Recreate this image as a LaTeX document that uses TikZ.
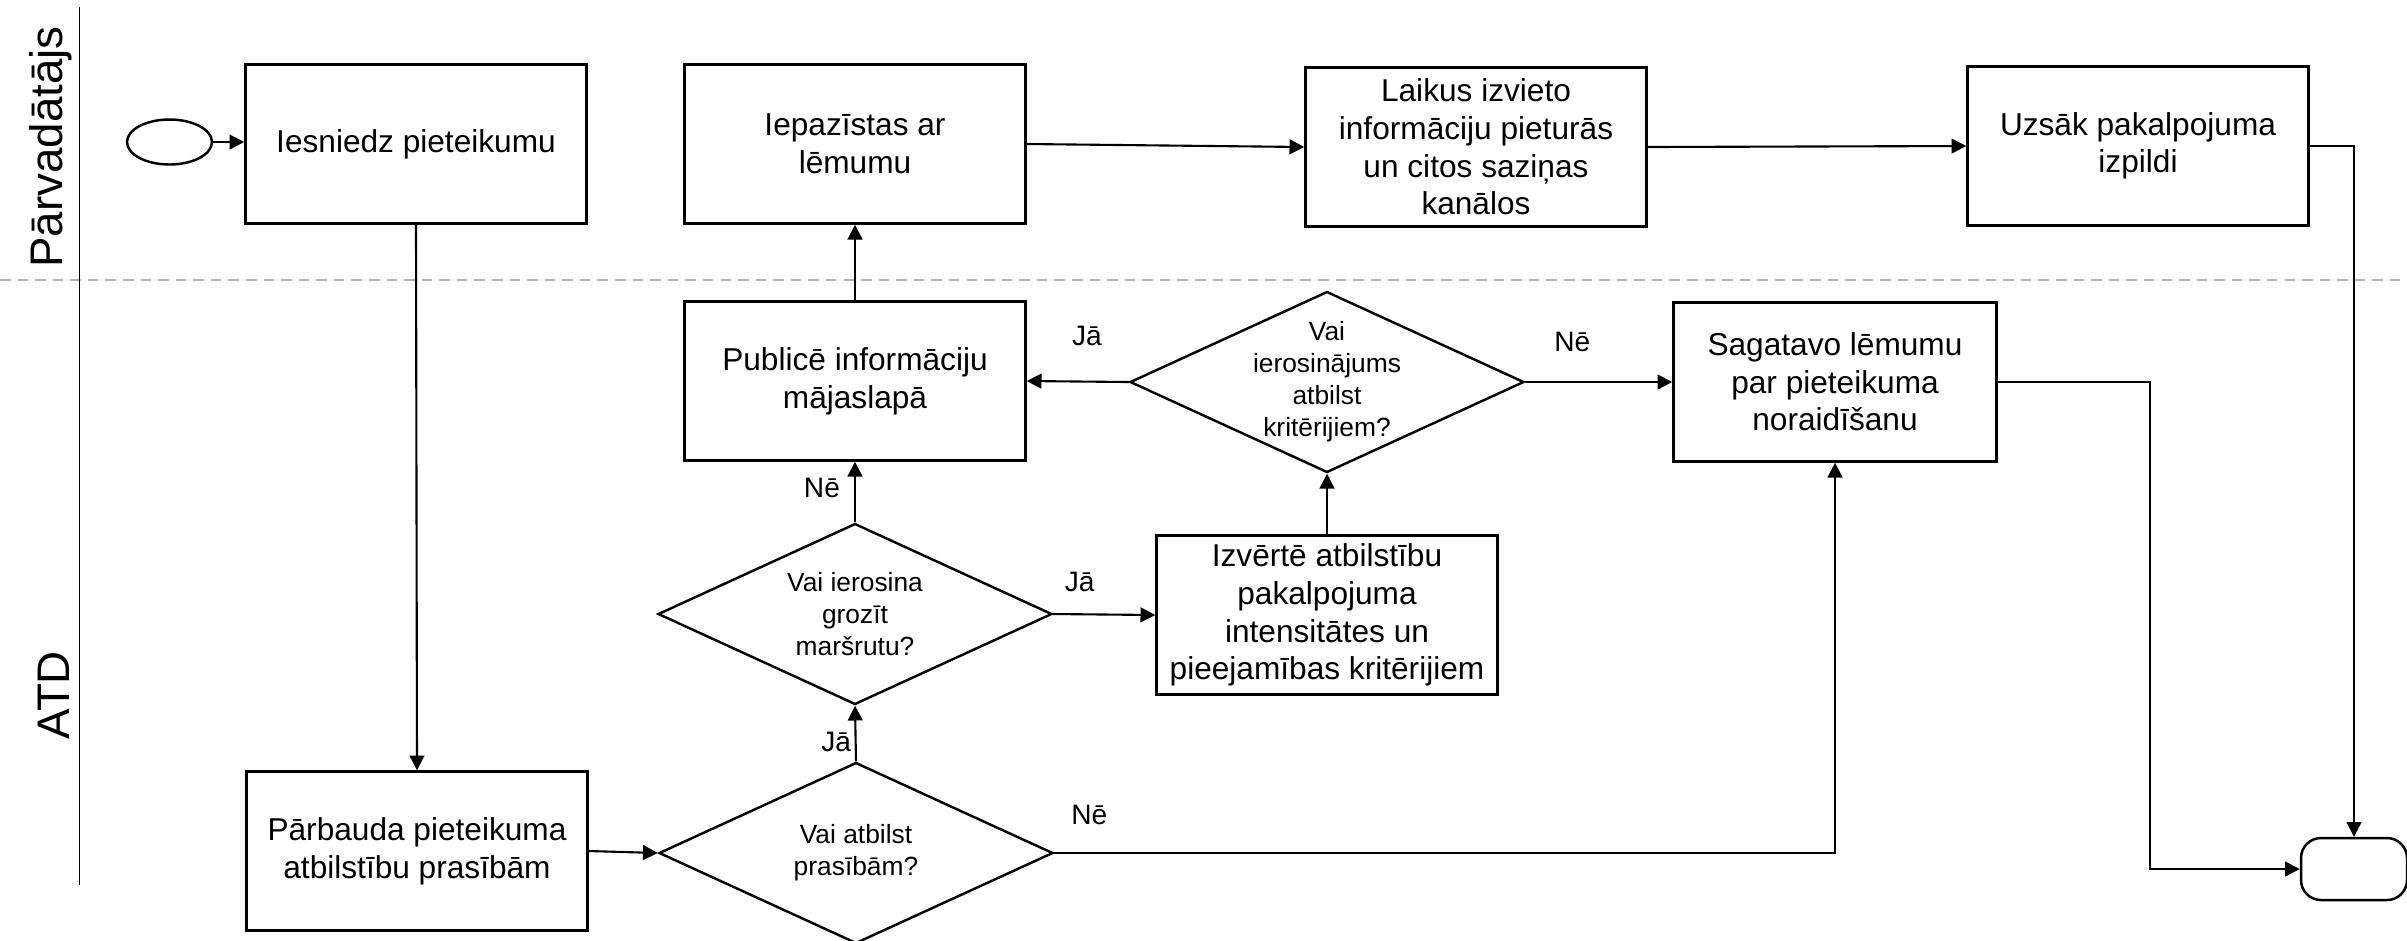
\documentclass[tikz,border=0pt]{standalone}
\usepackage{fontspec}
\setmainfont{Liberation Sans}
\usetikzlibrary{shapes.geometric,arrows.meta}

\begin{document}
\begin{tikzpicture}[
		box/.style={draw,line width=0.7pt,minimum width=3.41cm,minimum height=1.59cm,align=center,inner sep=1pt,font=\fontsize{9}{10.7}\selectfont},
		decision/.style={draw,diamond,line width=0.7pt,minimum width=3.94cm,minimum height=1.81cm,inner sep=-0.3cm,align=center,font=\fontsize{7.5}{9.1}\selectfont},
		lbl/.style={inner sep=1pt,font=\fontsize{8}{9.6}\selectfont},
		lane/.style={rotate=90,font=\fontsize{13}{15.6}\selectfont},
		arr/.style={line width=0.6pt,-{Triangle[length=4.2pt,width=4.2pt]}}
	]
				\useasboundingbox (0,0) rectangle (24.07,-9.40);
				\draw [gray!60,line width=0.3pt,dash pattern=on 3pt off 2pt] (0,-2.80) -- (24.07,-2.80);
				\draw [line width=0.4pt] (0.795,-0.07) -- (0.795,-8.85);
				\node [lane] (pv) at (0.51,-1.47) {Pārvadātājs};
				\node [lane] (atd) at (0.535,-6.95) {ATD};
				\node [draw,ellipse,line width=0.7pt,minimum width=0.85cm,minimum height=0.45cm,inner sep=0pt] (start) at (1.695,-1.42) {};
				\node [box] (iesn) at (4.16,-1.44) {Iesniedz pieteikumu};
				\node [box] (iepaz) at (8.55,-1.44) {Iepazīstas ar\\lēmumu};
				\node [box] (laikus) at (14.76,-1.47) {Laikus izvieto\\informāciju pieturās\\un citos saziņas\\kanālos};
				\node [box] (uzsak) at (21.38,-1.46) {Uzsāk pakalpojuma\\izpildi};
				\node [box] (publ) at (8.55,-3.81) {Publicē informāciju\\mājaslapā};
				\node [decision] (dkrit) at (13.27,-3.82) {Vai\\ierosinājums\\atbilst\\kritērijiem?};
				\node [box,minimum width=3.23cm] (sagat) at (18.35,-3.82) {Sagatavo lēmumu\\par pieteikuma\\noraidīšanu};
				\node [decision] (dgroz) at (8.55,-6.14) {Vai ierosina\\grozīt\\maršrutu?};
				\node [box] (izv) at (13.27,-6.15) {Izvērtē atbilstību\\pakalpojuma\\intensitātes un\\pieejamības kritērijiem};
				\node [box] (parb) at (4.17,-8.51) {Pārbauda pieteikuma\\atbilstību prasībām};
				\node [decision] (datb) at (8.56,-8.53) {Vai atbilst\\prasībām?};
				\node [draw,line width=0.7pt,rounded corners=0.2cm,minimum width=1.06cm,minimum height=0.62cm] (term) at (23.54,-8.69) {};
				\draw [arr] (start.east) -- (start.east -| iesn.west);
				\draw [arr] (iesn.south) -- (parb.north);
				\draw [arr] (parb.east) -- (datb.west);
				\draw [arr] (datb.north) -- node [lbl,left,pos=0.35] (ja1) {Jā} (dgroz.south);
				\draw [arr] (dgroz.north) -- node [lbl,left=3pt,pos=0.57] (ne1) {Nē} (publ.south);
				\draw [arr] (dgroz.east) -- node [lbl,above=5pt,pos=0.26] (ja2) {Jā} (izv.west);
				\draw [arr] (izv.north) -- (dkrit.south);
				\draw [arr] (dkrit.west) -- node [lbl,above=8.8pt,pos=0.41] (ja3) {Jā} (publ.east);
				\draw [arr] (dkrit.east) -- node [lbl,above=7.4pt,pos=0.32] (ne2) {Nē} (sagat.west);
				\draw [arr] (publ.north) -- (iepaz.south);
				\draw [arr] (iepaz.east) -- (laikus.west);
				\draw [arr] (laikus.east) -- (uzsak.west);
				\draw [arr] (uzsak.east) -| (term.north);
				\draw [arr] (datb.east) -- node [lbl,above=6.8pt,pos=0.045] (ne3) {Nē} (datb.east -| sagat.south) -- (sagat.south);
				\draw [arr] (sagat.east) -- ++(1.52,0) |- (term.west);
				\end{tikzpicture}
\end{document}
